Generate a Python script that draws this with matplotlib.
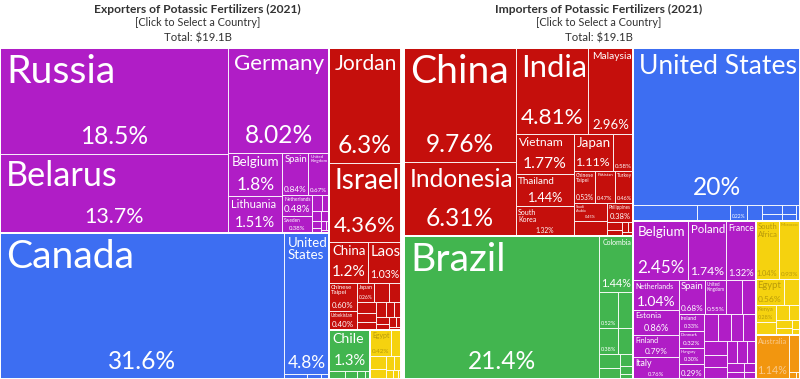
import matplotlib
matplotlib.use("Agg")
import matplotlib.pyplot as plt
from matplotlib.patches import Rectangle
from matplotlib.textpath import TextPath
from matplotlib.font_manager import FontProperties

# ---------------- data ----------------
exp_countries = ["Russia", "Belarus", "Germany", "Belgium", "Lithuania", "Spain", "United Kingdom",
                 "Netherlands", "Sweden", "France", "Poland", "Denmark", "Italy", "Norway", "Finland",
                 "Austria", "Latvia", "Estonia",
                 "Canada", "United States", "Mexico", "Panama", "Guatemala",
                 "Jordan", "Israel", "China", "Laos", "Chinese Taipei", "Uzbekistan", "Japan", "India",
                 "Malaysia", "South Korea", "Vietnam", "Thailand", "Indonesia", "Turkey", "Singapore",
                 "Kazakhstan", "Philippines", "UAE", "Saudi Arabia", "Pakistan",
                 "Chile", "Peru", "Colombia", "Brazil", "Argentina",
                 "Egypt", "Morocco", "South Africa", "Tunisia", "Algeria", "Senegal", "Kenya", "Nigeria", "Ghana"]
exp_continents = (["Europe"] * 18 + ["North America"] * 5 + ["Asia"] * 20 +
                  ["South America"] * 5 + ["Africa"] * 9)
exp_values = [18.5, 13.7, 8.02, 1.8, 1.51, 0.84, 0.67, 0.48, 0.38, 0.12, 0.09, 0.07, 0.06, 0.05, 0.04,
              0.03, 0.02, 0.02,
              31.6, 4.8, 0.08, 0.05, 0.03,
              6.3, 4.36, 1.2, 1.03, 0.6, 0.4, 0.26, 0.22, 0.18, 0.16, 0.14, 0.12, 0.1, 0.09, 0.08,
              0.07, 0.06, 0.05, 0.04, 0.03,
              1.3, 0.1, 0.07, 0.05, 0.03,
              0.42, 0.2, 0.15, 0.12, 0.09, 0.07, 0.05, 0.03, 0.02]

imp_countries = ["China", "Indonesia", "India", "Malaysia", "Vietnam", "Thailand", "South Korea", "Japan",
                 "Bangladesh", "Chinese Taipei", "Pakistan", "Turkey", "Saudi Arabia", "Sri Lanka",
                 "Philippines", "Israel", "UAE", "Singapore", "Myanmar", "Nepal",
                 "Brazil", "Colombia", "Argentina", "Ecuador", "Paraguay", "Peru", "Chile", "Uruguay",
                 "Bolivia", "Venezuela", "Guyana",
                 "United States", "Canada", "Mexico", "Guatemala", "Costa Rica", "Honduras", "Nicaragua",
                 "El Salvador", "Panama", "Jamaica",
                 "Belgium", "Poland", "France", "Netherlands", "Estonia", "Finland", "Italy", "Spain",
                 "United Kingdom", "Czechia", "Greece", "Ireland", "Denmark", "Hungary", "Germany",
                 "Romania", "Lithuania", "Latvia", "Austria", "Portugal", "Sweden", "Bulgaria", "Croatia",
                 "Slovakia", "Norway", "Slovenia", "Serbia", "Switzerland", "Albania",
                 "South Africa", "Morocco", "Egypt", "Tanzania", "Kenya", "Ethiopia", "Nigeria", "Zambia",
                 "Ghana", "Zimbabwe", "Uganda", "Malawi",
                 "Australia", "New Zealand", "Fiji", "Papua New Guinea"]
imp_continents = (["Asia"] * 20 + ["South America"] * 11 + ["North America"] * 10 +
                  ["Europe"] * 29 + ["Africa"] * 12 + ["Oceania"] * 4)
imp_values = [9.76, 6.31, 4.81, 2.96, 1.77, 1.44, 1.32, 1.11, 0.58, 0.53, 0.47, 0.46, 0.45, 0.38, 0.38,
              0.1, 0.07, 0.05, 0.04, 0.03,
              21.4, 1.44, 0.52, 0.42, 0.38, 0.3, 0.22, 0.18, 0.12, 0.08, 0.05,
              20.0, 0.82, 0.42, 0.22, 0.19, 0.14, 0.12, 0.1, 0.08, 0.05,
              2.45, 1.74, 1.32, 1.04, 0.86, 0.79, 0.76, 0.68, 0.55, 0.42, 0.34, 0.33, 0.32, 0.3, 0.29,
              0.28, 0.27, 0.26, 0.25, 0.24, 0.22, 0.2, 0.18, 0.16, 0.14, 0.12, 0.1, 0.08, 0.06,
              1.04, 0.93, 0.56, 0.31, 0.28, 0.2, 0.15, 0.12, 0.1, 0.08, 0.06, 0.04,
              1.14, 0.3, 0.04, 0.02]

titles = ["Exporters of Potassic Fertilizers (2021)", "Importers of Potassic Fertilizers (2021)"]
subtitle = "[Click to Select a Country]"
totals = ["Total: $19.1B", "Total: $19.1B"]

colors = {"Europe": "#b01dc6", "Asia": "#c50f0c", "North America": "#3d6ef2",
          "South America": "#42b54f", "Africa": "#f5d20f", "Oceania": "#f2960f"}
text_colors = {"Africa": "#b89a0a", "Oceania": "#f9c98a"}

FONT = "Lato"
fp = FontProperties(family=FONT)
fpb = FontProperties(family=FONT, weight="bold")
PHI = (1 + 5 ** 0.5) / 2


def tw(s, prop=fp):
    return TextPath((0, 0), s, size=1, prop=prop).get_extents().width


def squarify(values, x0, y0, x1, y1, ratio=PHI):
    n = len(values)
    rects = [None] * n
    value = float(sum(values))
    i0 = i1 = 0
    while i0 < n:
        dx, dy = x1 - x0, y1 - y0
        sumv = values[i1]
        i1 += 1
        minv = maxv = sumv
        alpha = max(dy / dx, dx / dy) / (value * ratio)
        beta = sumv * sumv * alpha
        minratio = max(maxv / beta, beta / minv)
        while i1 < n:
            nv = values[i1]
            sumv += nv
            minv = min(minv, nv)
            maxv = max(maxv, nv)
            beta = sumv * sumv * alpha
            newratio = max(maxv / beta, beta / minv)
            if newratio > minratio:
                sumv -= nv
                break
            minratio = newratio
            i1 += 1
        if dx < dy:
            ny = y0 + dy * sumv / value if i1 < n else y1
            x = x0
            for i in range(i0, i1):
                w = dx * values[i] / sumv
                rects[i] = (x, y0, x + w, ny)
                x += w
            y0 = ny
        else:
            nx = x0 + dx * sumv / value if i1 < n else x1
            y = y0
            for i in range(i0, i1):
                h = dy * values[i] / sumv
                rects[i] = (x0, y, nx, y + h)
                y += h
            x0 = nx
        value -= sumv
        i0 = i1
    return rects


def fmt(v):
    return ("%.2f" % v if v < 1 else "%.3g" % v) + "%"


MAX_NAME = 103 / tw("Russia")
MAX_PCT = 65 / tw("18.5%")
MIN_PX = 3.8


def label(ax, name, v, r, cont):
    x0, y0, x1, y1 = r
    w, h = x1 - x0, y1 - y0
    if w < 17 or h < 14 or (h < 17.5 and w > 30):
        return
    pad = max(2.0, min(6, w * 0.08, h * 0.08))
    pct = fmt(v)
    avail = w - 2 * pad
    words = name.split()
    ns = min(MAX_NAME, avail / tw(name))
    lines = [name]
    if len(words) > 1 and ns < 14:
        s2 = min(MAX_NAME, avail / max(tw(wd) for wd in words))
        if s2 > ns * 1.25:
            ns, lines = s2, words
    ps = min(MAX_PCT, avail / tw(pct), ns * 1.3 if ns > 8 else MAX_PCT)
    total = 2 * pad + len(lines) * ns * 1.2 + ps * 1.2
    if total > h:
        f = (h - 2 * pad) / (len(lines) * ns * 1.2 + ps * 1.2)
        ns *= f
        ps *= f
    col = text_colors.get(cont, "white")
    show_name = ns >= MIN_PX
    if not show_name:
        ps = min(MAX_PCT, avail / tw(pct), (h - 2 * pad) / 1.2)
    if show_name:
        ax.text(x0 + pad, y0 + pad, "\n".join(lines), fontsize=ns * 0.72, family=FONT,
                ha="left", va="top", color=col, linespacing=1.05)
    if ps >= MIN_PX:
        ax.text((x0 + x1) / 2, y1 - pad, pct, fontsize=ps * 0.72, family=FONT,
                ha="center", va="bottom", color=col)


def treemap(ax, countries, conts, values, box):
    groups = {}
    for c, g, v in zip(countries, conts, values):
        groups.setdefault(g, []).append((v, c))
    order = sorted(groups, key=lambda g: -sum(v for v, _ in groups[g]))
    gvals = [sum(v for v, _ in groups[g]) for g in order]
    grects = squarify(gvals, *box)
    for g, gr in zip(order, grects):
        items = sorted(groups[g], key=lambda t: -t[0])
        rects = squarify([v for v, _ in items], *gr)
        for (v, c), r in zip(items, rects):
            ax.add_patch(Rectangle((r[0], r[1]), r[2] - r[0], r[3] - r[1], facecolor=colors[g],
                                   edgecolor="white", linewidth=0.6))
            label(ax, c, v, r, g)
        ax.add_patch(Rectangle((gr[0], gr[1]), gr[2] - gr[0], gr[3] - gr[1], facecolor="none",
                               edgecolor="white", linewidth=1.4))


fig = plt.figure(figsize=(8, 3.79), dpi=100)
ax = fig.add_axes([0, 0, 1, 1])
ax.set_xlim(0, 800)
ax.set_ylim(379, 0)
ax.axis("off")

boxes = [(0, 48, 401, 379), (404, 48, 800, 379)]
treemap(ax, exp_countries, exp_continents, exp_values, boxes[0])
treemap(ax, imp_countries, imp_continents, imp_values, boxes[1])

t_size = 205 / tw(titles[0], fpb)
s_size = 123 / tw(subtitle)
o_size = 67 / tw(totals[0])
for (bx0, _, bx1, _), t, tot in zip(boxes, titles, totals):
    cx = (bx0 + bx1) / 2 - 3
    ax.text(cx, 9, t, fontsize=t_size * 0.72, family=FONT, weight="bold", ha="center", va="center",
            color="#333333")
    ax.text(cx, 22.5, subtitle, fontsize=s_size * 0.72, family=FONT, ha="center", va="center",
            color="#333333")
    ax.text(cx, 38, tot, fontsize=o_size * 0.72, family=FONT, ha="center", va="center",
            color="#333333")

fig.savefig("out.png", dpi=100)
